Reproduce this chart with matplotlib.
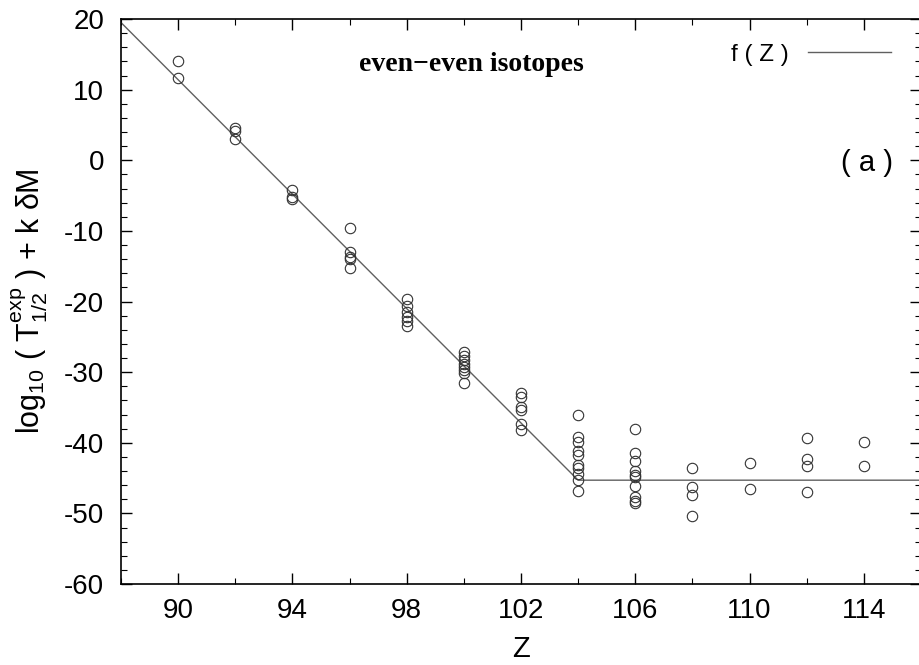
import numpy as np
import matplotlib
matplotlib.use("Agg")
import matplotlib.pyplot as plt
from matplotlib.ticker import MultipleLocator

plt.rcParams['font.family'] = ['Liberation Sans', 'DejaVu Sans']
plt.rcParams['mathtext.default'] = 'regular'
plt.rcParams['axes.unicode_minus'] = False

# measured values, grouped by Z
z_90 = [14.1, 11.7]
z_92 = [4.5, 4.2, 3.0]
z_94 = [-4.2, -5.2, -5.5]
z_96 = [-9.6, -13.0, -13.7, -14.0, -15.2]
z_98 = [-19.7, -20.7, -21.5, -22.2, -22.8, -23.4]
z_100 = [-27.1, -27.7, -28.3, -28.9, -29.3, -29.7, -30.1, -31.5]
z_102 = [-32.9, -33.5, -34.9, -35.4, -37.4, -38.2]
z_104 = [-36.0, -39.2, -39.9, -41.2, -41.8, -43.1, -43.6, -44.4, -45.3, -46.8]
z_106 = [-38.0, -41.4, -42.6, -44.0, -44.5, -44.9, -46.1, -47.7, -48.2, -48.6]
z_108 = [-43.6, -46.3, -47.4, -50.4]
z_110 = [-42.9, -46.6]
z_112 = [-39.3, -42.3, -43.3, -47.0]
z_114 = [-39.9, -43.3]

groups = {90: z_90, 92: z_92, 94: z_94, 96: z_96, 98: z_98, 100: z_100,
          102: z_102, 104: z_104, 106: z_106, 108: z_108, 110: z_110,
          112: z_112, 114: z_114}

# f(Z): straight line down to the kink, then flat
f_z = [88, 104, 116]
f_val = [19.5, -45.3, -45.3]

fig = plt.figure(figsize=(9.19, 6.65), dpi=100)
ax = fig.add_axes([121/919, 1 - 584/665, 800/919, 565/665])

zz = []
yy = []
for z, vals in groups.items():
    zz += [z]*len(vals)
    yy += vals

ax.plot(f_z, f_val, color='#606060', lw=1.0, label='f ( Z )')
ax.plot(zz, yy, 'o', mfc='none', mec='#333333', mew=0.8, ms=7.5, ls='none')

ax.set_xlim(88, 116)
ax.set_ylim(-60, 20)
ax.xaxis.set_minor_locator(MultipleLocator(2))
ax.set_xticks([90, 94, 98, 102, 106, 110, 114])
ax.yaxis.set_major_locator(MultipleLocator(10))
ax.yaxis.set_minor_locator(MultipleLocator(2))
ax.tick_params(which='both', direction='in', top=True, right=True, labelsize=20)
ax.tick_params(which='major', length=8, width=1)
ax.tick_params(which='minor', length=4, width=0.8)
ax.tick_params(axis='y', pad=12)
ax.tick_params(axis='x', pad=10)
for s in ax.spines.values():
    s.set_linewidth(1.2)

ax.set_xlabel('Z', fontsize=21, labelpad=8)
ax.set_ylabel(r'log$_{10}$ ( T$^{exp}_{1/2}$ ) + k δM', fontsize=22, labelpad=10)

ax.text(100.25, 13.6, 'even\u2212even isotopes', family='Liberation Serif',
        weight='bold', fontsize=20, ha='center', va='center')
ax.text(114.1, -0.4, '( a )', fontsize=21, ha='center', va='center')

ax.legend(loc='upper right', bbox_to_anchor=(0.99, 0.995), frameon=False,
          markerfirst=False, handlelength=3.4, handletextpad=0.8, fontsize=17.5)

fig.savefig('out.png', dpi=100)
